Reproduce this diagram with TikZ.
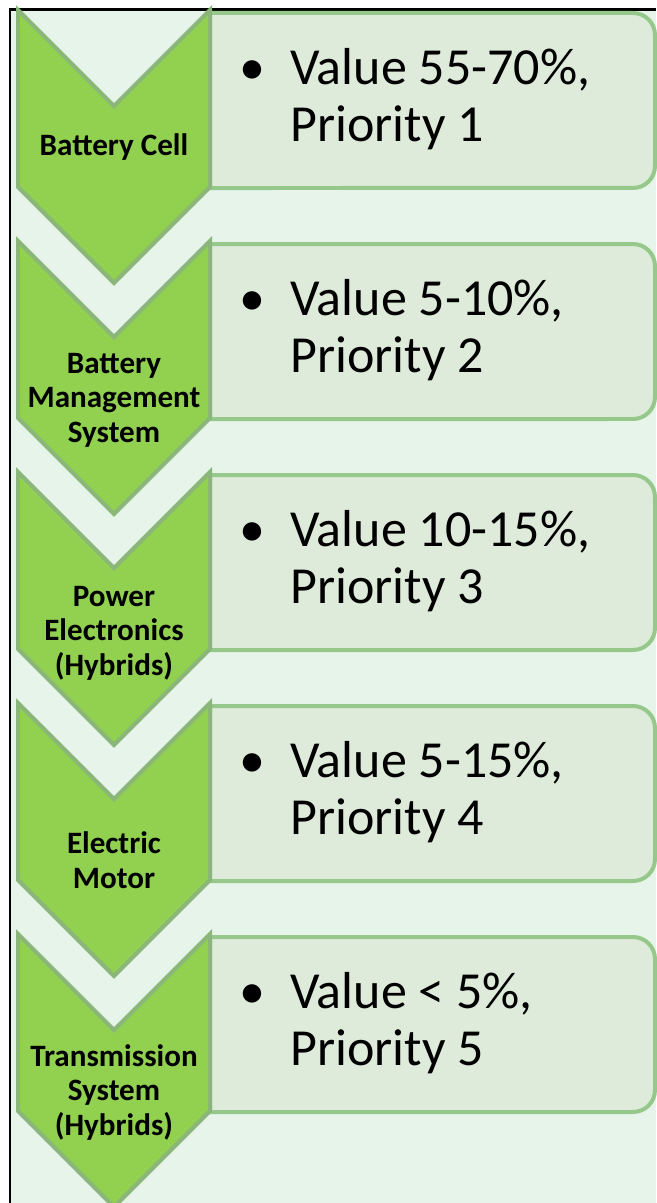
\documentclass[tikz,border=0pt]{standalone}
\usepackage{fontspec}
\setmainfont{Carlito}
\definecolor{panelbg}{RGB}{230,244,234}
\definecolor{boxfill}{RGB}{222,235,218}
\definecolor{boxedge}{RGB}{150,200,140}
\definecolor{chevfill}{RGB}{146,208,80}
\definecolor{chevedge}{RGB}{138,182,122}
\tikzset{
  chev/.style={fill=chevfill, draw=chevedge, line width=0.08cm},
  valbox/.style={fill=boxfill, draw=boxedge, line width=0.08cm},
  chevlabel/.style={anchor=base, align=center, inner sep=0pt, font=\fontsize{17.7pt}{19.6pt}\selectfont\bfseries},
  valtext/.style={anchor=base west, align=left, inner sep=0pt, font=\fontsize{29.6pt}{31.9pt}\selectfont}
}
\begin{document}
\begin{tikzpicture}[x=0.02cm, y=0.02cm]
  \useasboundingbox (0,0) rectangle (656,-1203);
  % light green panel, black frame on top and left
  \fill[panelbg] (11,-10) rectangle (656,-1203);
  \draw[black, line width=0.06cm] (10,-1203) -- (10,-10) -- (656,-10);

  % one chevron and one value box per component
  % (\ly = baseline of the last label line, below the chevron top)
  \foreach \i/\lab/\ly/\val/\prio in {
      0/{Battery Cell}/145/{55-70\%}/1,
      1/{Battery\\Management\\System}/201/{5-10\%}/2,
      2/{Power\\Electronics\\(Hybrids)}/203/{10-15\%}/3,
      3/{Electric\\Motor}/185/{5-15\%}/4,
      4/{Transmission\\System\\(Hybrids)}/201/{< 5\%}/5}{
    \pgfmathsetmacro{\ytop}{-10-231*\i}
    % value box, rounded on the right only
    \draw[valbox] (210,\ytop-3) -- (633,\ytop-3)
      arc[start angle=90, end angle=0, radius=0.44cm] -- (655,\ytop-156)
      arc[start angle=0, end angle=-90, radius=0.44cm] -- (210,\ytop-178) -- cycle;
    % chevron
    \draw[chev] (18,\ytop) -- (114,\ytop-96) -- (210,\ytop) -- (210,\ytop-177)
      -- (114,\ytop-273) -- (18,\ytop-177) -- cycle;
    \node[chevlabel] (comp\i) at (114,\ytop-\ly) {\lab};
    \node[valtext] (val\i) at (290,\ytop-131) {\llap{•\hspace{0.5cm}}Value \val,\\Priority \prio};
  }
\end{tikzpicture}
\end{document}
